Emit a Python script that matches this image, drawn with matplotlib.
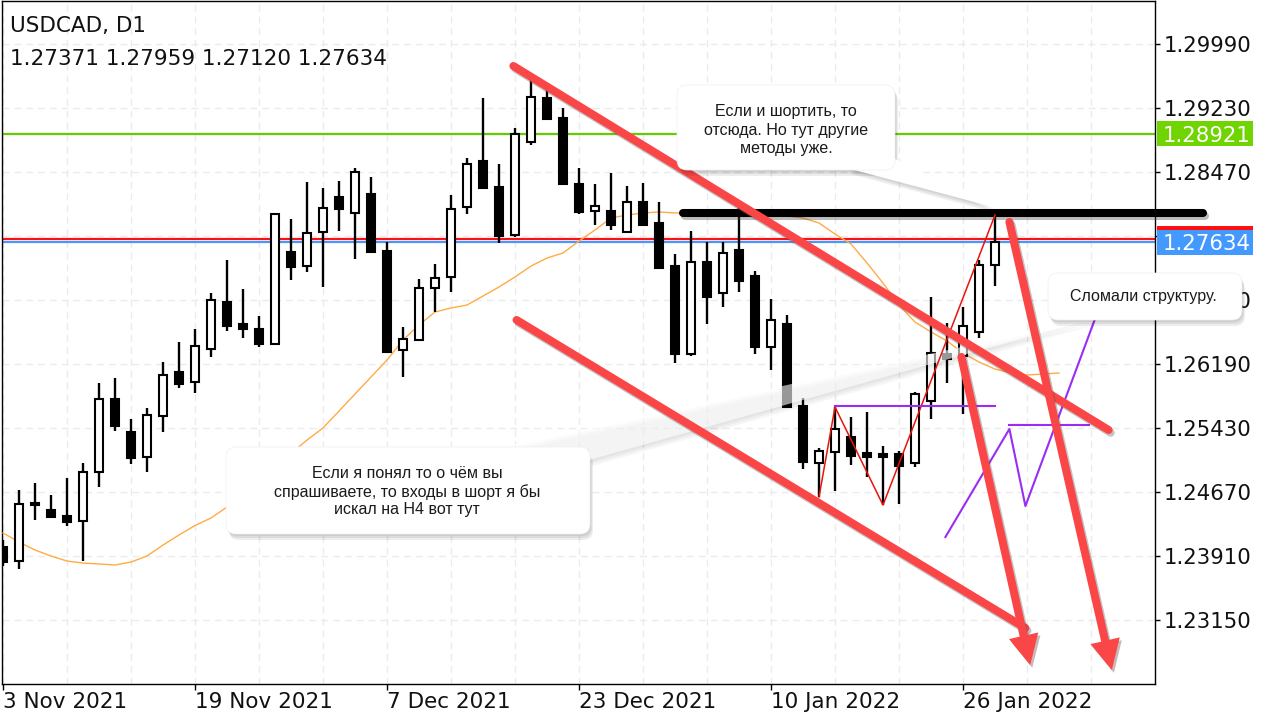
import matplotlib
matplotlib.use("Agg")
import matplotlib.pyplot as plt
import matplotlib.transforms as mtransforms
import matplotlib.patheffects as pe
from matplotlib.patches import Rectangle, FancyBboxPatch, Polygon
from matplotlib.lines import Line2D
import numpy as np

# ---------------- data ----------------
symbol_title = "USDCAD, D1"
ohlc_header = "1.27371 1.27959 1.27120 1.27634"

opens = [1.24016, 1.23850, 1.24539, 1.24456, 1.24385, 1.24325, 1.24907, 1.25774, 1.25382, 1.25085,
         1.25572, 1.26095, 1.25976, 1.26368, 1.26926, 1.26665, 1.26605, 1.26427, 1.27520, 1.27353,
         1.27757, 1.28173, 1.27983, 1.28208, 1.27531, 1.26356, 1.26475, 1.27092, 1.27223, 1.28054,
         1.28600, 1.28291, 1.27721, 1.28826, 1.29348, 1.29111, 1.28327, 1.28006, 1.28006, 1.27757,
         1.28113, 1.27864, 1.27353, 1.26308, 1.27401, 1.27033, 1.27543, 1.27235, 1.26391, 1.26665,
         1.25691, 1.25014, 1.25145, 1.25323, 1.25133, 1.25121, 1.25121, 1.25014, 1.25750, 1.26308,
         1.26285, 1.26570, 1.27371]
highs = [1.24100, 1.24693, 1.24776, 1.24634, 1.24836, 1.25014, 1.25964, 1.26023, 1.25536, 1.25667,
         1.26213, 1.26451, 1.26605, 1.27033, 1.27425, 1.27080, 1.26760, 1.27983, 1.27911, 1.28351,
         1.28280, 1.28363, 1.28517, 1.28410, 1.27638, 1.26629, 1.27199, 1.27377, 1.28196, 1.28636,
         1.29348, 1.28565, 1.28992, 1.29562, 1.29443, 1.29230, 1.28517, 1.28327, 1.28458, 1.28303,
         1.28339, 1.28113, 1.27496, 1.27769, 1.27638, 1.27638, 1.28054, 1.27294, 1.26961, 1.26771,
         1.25786, 1.25192, 1.25679, 1.25560, 1.25620, 1.25216, 1.25156, 1.25857, 1.26985, 1.26676,
         1.26866, 1.27425, 1.27959]
lows = [1.23791, 1.23755, 1.24337, 1.24361, 1.24266, 1.23850, 1.24729, 1.25394, 1.25002, 1.24907,
        1.25382, 1.25905, 1.25845, 1.26273, 1.26581, 1.26498, 1.26391, 1.26415, 1.27187, 1.27282,
        1.27104, 1.27769, 1.27436, 1.27508, 1.26320, 1.26035, 1.26463, 1.26807, 1.27045, 1.27971,
        1.28268, 1.27626, 1.27698, 1.28790, 1.29090, 1.28315, 1.27971, 1.27840, 1.27781, 1.27745,
        1.27828, 1.27318, 1.26201, 1.26285, 1.26665, 1.26866, 1.27045, 1.26308, 1.26118, 1.25667,
        1.24943, 1.24610, 1.24681, 1.24990, 1.24848, 1.24515, 1.24527, 1.24966, 1.25536, 1.25964,
        1.25596, 1.26498, 1.27120]
closes = [1.23838, 1.24527, 1.24515, 1.24373, 1.24313, 1.24907, 1.25774, 1.25453, 1.25073, 1.25584,
          1.26059, 1.25952, 1.26403, 1.26950, 1.26641, 1.26605, 1.26427, 1.27971, 1.27341, 1.27745,
          1.28042, 1.28030, 1.28470, 1.27520, 1.26332, 1.26486, 1.27092, 1.27211, 1.28030, 1.28565,
          1.28280, 1.27710, 1.28921, 1.29360, 1.29099, 1.28327, 1.27995, 1.28066, 1.27840, 1.28113,
          1.27840, 1.27330, 1.26308, 1.27401, 1.26985, 1.27508, 1.27175, 1.26391, 1.26712, 1.25679,
          1.25026, 1.25156, 1.25418, 1.25097, 1.25085, 1.25085, 1.24978, 1.25833, 1.26320, 1.26249,
          1.26641, 1.27365, 1.27634]

ma_bars = [0, 1, 2, 3, 4, 5, 6, 7, 8, 9, 10, 11, 12, 13, 14,
           19, 20, 21, 22, 23, 24, 25, 26, 27, 28, 29, 30, 31, 32, 33, 34, 35, 36, 37, 38, 39, 40,
           41, 42, 43, 44, 45, 46, 47, 48, 49, 50, 51, 52, 53, 54, 55, 56, 57, 58, 59, 60, 61, 62,
           63, 64, 65, 66]
ma_values = [1.24183, 1.24076, 1.23981, 1.23910, 1.23850, 1.23826, 1.23815, 1.23803, 1.23838, 1.23910,
             1.24040, 1.24159, 1.24272, 1.24361, 1.24491,
             1.25287, 1.25430, 1.25631, 1.25833, 1.26035, 1.26237, 1.26475, 1.26653, 1.26807, 1.26855,
             1.26890, 1.26997, 1.27104, 1.27223, 1.27353, 1.27448, 1.27508, 1.27650, 1.27781, 1.27923,
             1.27959, 1.27983, 1.27995, 1.27983, 1.27983, 1.27959, 1.27947, 1.27947, 1.27959, 1.27959,
             1.27947, 1.27923, 1.27864, 1.27733, 1.27615, 1.27389, 1.27151, 1.26890, 1.26688, 1.26570,
             1.26463, 1.26320, 1.26213, 1.26130, 1.26083, 1.26059, 1.26071, 1.26083]

price_ticks = [1.29990, 1.29230, 1.28470, 1.27710, 1.26950, 1.26190, 1.25430, 1.24670, 1.23910, 1.23150]
date_labels = ["3 Nov 2021", "19 Nov 2021", "7 Dec 2021", "23 Dec 2021", "10 Jan 2022", "26 Jan 2022"]
date_tick_bars = [0, 12, 24, 36, 48, 60]

level_green = 1.28921
bid_price = 1.27634
ask_price = 1.27674

# drawn objects (bar index, price)
black_level = 1.27980
black_level_bars = [42.5, 75.0]
red_line_upper = [(31.9, 1.29728), (69.1, 1.25406)]
red_line_lower = [(32.1, 1.26712), (63.9, 1.23055)]
red_arrow_1 = [(59.9, 1.26273), (64.2, 1.22615)]
red_arrow_2 = [(62.9, 1.27876), (69.3, 1.22556)]
zigzag_bars = [51, 52, 55, 62]
zigzag_prices = [1.24610, 1.25679, 1.24515, 1.27959]
purple_level_1 = (52, 62, 1.25691)
purple_zz_bars = [58.9, 62.9, 63.9, 68.25]
purple_zz_prices = [1.24135, 1.25418, 1.24503, 1.26724]
purple_level_2 = (62.9, 67.9, 1.25465)

callout_top = ["Если и шортить, то", "отсюда. Но тут другие", "методы уже."]
callout_low = ["Если я понял то о чём вы", "спрашиваете, то входы в шорт я бы", "искал на H4 вот тут"]
callout_right = ["Сломали структуру."]

# ---------------- figure ----------------
W, H = 1280, 720
fig = plt.figure(figsize=(W / 100, H / 100), dpi=100)
fig.patch.set_facecolor("white")
ax = fig.add_axes([2 / W, (H - 684) / H, (1155 - 2) / W, (684 - 1) / H])
ax.set_facecolor("white")
ax.set_xlim(-0.0625, 72.0)
ax.set_ylim(1.22390, 1.30500)

px = mtransforms.Affine2D().scale(1 / W, -1 / H).translate(0, 1) + fig.transFigure


def to_px(b, p):
    d = ax.transData.transform((b, p))
    return np.array([d[0], H - d[1]])


# grid
for p in price_ticks:
    ax.axhline(p, color="#ebebeb", lw=1, dashes=(5, 3.5), zorder=0.5)
for b in range(0, 72, 4):
    ax.axvline(b, color="#ebebeb", lw=1, dashes=(5, 3.5), zorder=0.5)

for s in ax.spines.values():
    s.set_color("black")
    s.set_linewidth(1)

ax.yaxis.tick_right()
ax.set_yticks(price_ticks)
ax.set_yticklabels([f"{p:.5f}" for p in price_ticks])
ax.tick_params(axis="y", direction="out", length=3.6, width=1, pad=2.5, labelsize=15.3,
               labelcolor="#111111")
for lab in ax.get_yticklabels():
    lab.set_va("center_baseline")
    lab.set_family("DejaVu Sans")

ax.set_xticks(date_tick_bars)
ax.set_xticklabels(date_labels)
ax.tick_params(axis="x", direction="out", length=4.3, width=1, pad=13, labelsize=15.5,
               labelcolor="#111111")
for lab in ax.get_xticklabels():
    lab.set_ha("left")
    lab.set_va("baseline")

# price lines
ax.axhline(level_green, color="#66cc00", lw=1.6, zorder=1)
ax.axhline(ask_price, color="#ff1010", lw=1.6, zorder=1)
ax.axhline(bid_price, color="#4499ff", lw=1.6, zorder=1)

# moving average
ax.plot(ma_bars, ma_values, color="#ffab45", lw=1.0, zorder=2.8)

# candles
for i, (o, h, l, c) in enumerate(zip(opens, highs, lows, closes)):
    up = c >= o
    ax.vlines(i, l, h, color="black", lw=1.7, zorder=3)
    ax.add_patch(Rectangle((i - 0.22, min(o, c)), 0.44, abs(c - o),
                           facecolor="white" if up else "black", edgecolor="black",
                           lw=1.5, zorder=3.1))

# black level line
shadow_line = [pe.SimpleLineShadow(offset=(1.5, -2), shadow_color="#444444", alpha=0.35), pe.Normal()]
ax.add_line(Line2D(black_level_bars, [black_level, black_level], color="black", lw=5.8,
                   solid_capstyle="round", zorder=4, clip_on=False, path_effects=shadow_line))


# callouts
def rbox(x0, y0, x1, y1, z, **kw):
    return FancyBboxPatch((x0, y0), x1 - x0, y1 - y0, boxstyle="round,pad=0,rounding_size=10",
                          transform=px, clip_on=False, zorder=z, **kw)


def callout(box, wedge, lines, baselines, cx, z, wedge_alpha=1.0):
    x0, y0, x1, y1 = box
    for dx, dy in [(1, 2), (2, 4), (3, 6)]:
        ax.add_patch(rbox(x0 + dx, y0 + dy, x1 + dx, y1 + dy, z, facecolor="black",
                          edgecolor="none", alpha=0.07))
        if wedge is not None:
            ax.add_patch(Polygon([(x + dx, y + dy) for x, y in wedge], closed=True, transform=px,
                                 facecolor="black", edgecolor="none", alpha=0.06 * wedge_alpha,
                                 zorder=z, clip_on=False))
    if wedge is not None:
        ax.add_patch(Polygon(wedge, closed=True, transform=px, facecolor="white", edgecolor="none",
                             alpha=wedge_alpha, zorder=z + 0.01, clip_on=False))
    ax.add_patch(rbox(x0, y0, x1, y1, z + 0.02, facecolor="white", edgecolor="#f0f0f0", lw=0.5))
    for t, yb in zip(lines, baselines):
        ax.text(cx, yb, t, transform=px, ha="center", va="baseline", fontsize=11.5,
                family=["Liberation Sans", "DejaVu Sans"], color="#1a1a1a", zorder=z + 0.03,
                clip_on=False)


callout((226, 447, 590, 534), [(493, 449), (1095, 318), (589, 460), (589, 449)],
        callout_low, [478, 497, 514], 407, 4.3, wedge_alpha=0.6)

# thin zigzags
ax.plot(zigzag_bars, zigzag_prices, color="#e8140c", lw=1.1, zorder=4.5)
ax.plot([purple_level_1[0], purple_level_1[1]], [purple_level_1[2]] * 2, color="#9a2cf5", lw=1.5, zorder=4.5)
ax.plot(purple_zz_bars, purple_zz_prices, color="#9a2cf5", lw=1.5, zorder=4.5, clip_on=False)
ax.plot([purple_level_2[0], purple_level_2[1]], [purple_level_2[2]] * 2, color="#9a2cf5", lw=1.5, zorder=4.5)

# thick red lines and arrows
RED = "#fa4646"
red_fx = [pe.SimpleLineShadow(offset=(1.5, -2), shadow_color="#555555", alpha=0.35), pe.Normal()]
for seg in (red_line_upper, red_line_lower):
    (b0, p0), (b1, p1) = seg
    ax.add_line(Line2D([b0, b1], [p0, p1], color=RED, lw=5.8, solid_capstyle="round",
                       zorder=5, clip_on=False, path_effects=red_fx))

for seg in (red_arrow_1, red_arrow_2):
    s = to_px(*seg[0])
    t = to_px(*seg[1])
    u = (t - s) / np.hypot(*(t - s))
    nrm = np.array([-u[1], u[0]])
    base = t - 30 * u
    ax.add_line(Line2D([s[0], base[0] + 3 * u[0]], [s[1], base[1] + 3 * u[1]], transform=px,
                       color=RED, lw=5.8, solid_capstyle="round", zorder=5, clip_on=False,
                       path_effects=red_fx))
    head = [t, base + nrm * 15, base - nrm * 15]
    ax.add_patch(Polygon(head, closed=True, transform=px, facecolor=RED, edgecolor="none",
                         zorder=5.1, clip_on=False,
                         path_effects=[pe.SimplePatchShadow(offset=(1.5, -2), alpha=0.3), pe.Normal()]))

callout((677, 85, 895, 170), [(847, 168), (993, 207), (893, 158)],
        callout_top, [116, 135, 153], 786, 6)
callout((1048, 273, 1242, 320), None, callout_right, [301], 1143, 6.2)


# price tags
def price_tag(price, color, show_text=True, z=7):
    y = to_px(0, price)[1]
    ax.add_patch(Rectangle((1157, y - 12.5), 96, 25, transform=px, facecolor=color,
                           edgecolor="none", clip_on=False, zorder=z))
    if show_text:
        ax.text(1163, y, f"{price:.5f}", transform=px, ha="left", va="center_baseline",
                fontsize=15.3, color="white", zorder=z + 0.1, clip_on=False)


price_tag(level_green, "#6fd400")
price_tag(ask_price, "#ff1010", show_text=False, z=7)
price_tag(bid_price, "#4499ff", z=7.2)

# header
ax.text(10, 32, symbol_title, transform=px, ha="left", va="baseline", fontsize=15.5,
        color="#111111", zorder=8, clip_on=False)
ax.text(10, 65, ohlc_header, transform=px, ha="left", va="baseline", fontsize=15.5,
        color="#111111", zorder=8, clip_on=False)

fig.savefig("out.png", dpi=100, facecolor="white")
